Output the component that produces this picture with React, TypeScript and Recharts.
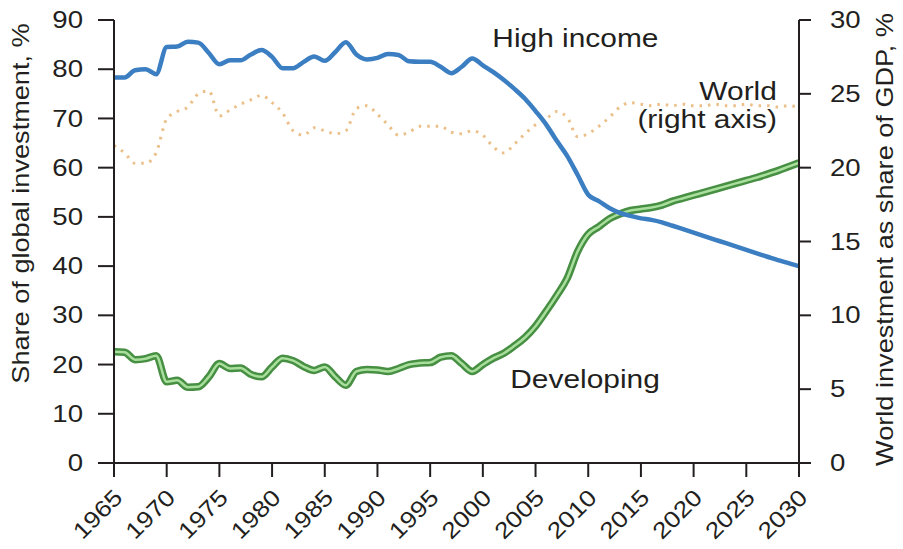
import React from 'react';
import { LineChart, Line, XAxis, YAxis, ReferenceDot, Label } from 'recharts';

const years = [
  1965, 1966, 1967, 1968, 1969, 1970, 1971, 1972, 1973, 1974,
  1975, 1976, 1977, 1978, 1979, 1980, 1981, 1982, 1983, 1984,
  1985, 1986, 1987, 1988, 1989, 1990, 1991, 1992, 1993, 1994,
  1995, 1996, 1997, 1998, 1999, 2000, 2001, 2002, 2003, 2004,
  2005, 2006, 2007, 2008, 2009, 2010, 2011, 2012, 2013, 2014,
  2015, 2016, 2017, 2018, 2019, 2020, 2021, 2022, 2023, 2024,
  2025, 2026, 2027, 2028, 2029, 2030,
];

const highIncome = [
  78.3, 78.3, 79.8, 80.0, 79.0, 84.5, 84.6, 85.6, 85.4, 83.3,
  81.0, 81.8, 81.8, 83.0, 83.9, 82.5, 80.2, 80.2, 81.5, 82.6,
  81.7, 83.5, 85.5, 83.0, 82.0, 82.3, 83.1, 82.9, 81.6, 81.5,
  81.5, 80.5, 79.2, 80.5, 82.2, 80.8, 79.4, 77.8, 76.0, 74.0,
  71.5, 68.8, 65.5, 62.4, 58.5, 54.5, 53.2, 51.8, 50.8, 50.2,
  49.7, 49.4, 48.9, 48.2, 47.5, 46.8, 46.1, 45.4, 44.7, 44.0,
  43.3, 42.6, 41.9, 41.2, 40.6, 40.0,
];

const developing = [
  22.6, 22.5, 21.0, 21.2, 21.8, 16.5, 16.8, 15.4, 15.5, 17.5,
  20.2, 19.2, 19.3, 18.0, 17.5, 19.5, 21.3, 20.8, 19.6, 18.8,
  19.5, 17.5, 15.8, 18.6, 19.0, 18.9, 18.6, 19.2, 20.0, 20.3,
  20.4, 21.5, 21.8, 20.2, 18.6, 20.0, 21.3, 22.3, 23.8, 25.5,
  27.8, 30.8, 34.0, 37.5, 43.0, 46.5, 48.0, 49.6, 50.6, 51.3,
  51.6, 51.9, 52.4, 53.2, 53.8, 54.4, 55.0, 55.6, 56.2, 56.8,
  57.4, 58.0, 58.7, 59.4, 60.2, 61.0,
];

const world = [
  21.5, 21.0, 20.3, 20.3, 21.0, 23.3, 23.8, 24.1, 25.0, 25.2,
  23.5, 23.9, 24.3, 24.6, 24.9, 24.4, 23.7, 22.5, 22.2, 22.7,
  22.5, 22.3, 22.5, 24.0, 24.2, 23.6, 22.9, 22.2, 22.4, 22.8,
  22.8, 22.8, 22.4, 22.3, 22.5, 22.2, 21.4, 21.0, 21.6, 22.3,
  22.9, 23.3, 23.8, 23.4, 22.1, 22.3, 22.8, 23.4, 24.1, 24.4,
  24.3, 24.2, 24.3, 24.2, 24.3, 24.2, 24.2, 24.3, 24.2, 24.2,
  24.3, 24.2, 24.2, 24.1, 24.2, 24.1,
];

const xTicks = [1965, 1970, 1975, 1980, 1985, 1990, 1995, 2000, 2005, 2010, 2015, 2020, 2025, 2030];
const leftTicks = [0, 10, 20, 30, 40, 50, 60, 70, 80, 90];
const rightTicks = [0, 5, 10, 15, 20, 25, 30];

const leftTitle = 'Share of global investment, %';
const rightTitle = 'World investment as share of GDP, %';
const highLabel = 'High income';
const worldLabel1 = 'World';
const worldLabel2 = '(right axis)';
const devLabel = 'Developing';

const data = years.map((year, i) => ({
  year,
  high: highIncome[i],
  dev: developing[i],
  world: world[i],
}));

const FONT = '"Liberation Sans", Arial, Helvetica, sans-serif';
const INK = '#231f20';

const LeftTick = (props: any) => {
  const { x, y, payload } = props;
  return (
    <text
      transform={`translate(${x},${y}) scale(1.2,1)`}
      textAnchor="end"
      dominantBaseline="central"
      fontSize={23}
      fill={INK}
      fontFamily={FONT}
    >
      {payload.value}
    </text>
  );
};

const RightTick = (props: any) => {
  const { x, y, payload } = props;
  return (
    <text
      transform={`translate(${x},${y}) scale(1.2,1)`}
      textAnchor="start"
      dominantBaseline="central"
      fontSize={23}
      fill={INK}
      fontFamily={FONT}
    >
      {payload.value}
    </text>
  );
};

const BottomTick = (props: any) => {
  const { x, y, payload } = props;
  return (
    <text
      transform={`translate(${x + 10},${y + 22}) rotate(-45) scale(1.15,1)`}
      textAnchor="end"
      fontSize={23}
      fill={INK}
      fontFamily={FONT}
    >
      {payload.value}
    </text>
  );
};

const LeftTitle = (props: any) => {
  const vb = props.viewBox || { x: 0, y: 20, width: 114, height: 443 };
  const cx = vb.x + 21;
  const cy = vb.y + vb.height / 2 - 38;
  return (
    <text
      transform={`translate(${cx},${cy}) rotate(-90) scale(1.18,1)`}
      textAnchor="middle"
      dominantBaseline="central"
      fontSize={23}
      fill={INK}
      fontFamily={FONT}
    >
      {leftTitle}
    </text>
  );
};

const RightTitle = (props: any) => {
  const vb = props.viewBox || { x: 799, y: 20, width: 104, height: 443 };
  const cx = vb.x + 86;
  const cy = vb.y + vb.height / 2 - 2;
  return (
    <text
      transform={`translate(${cx},${cy}) rotate(-90) scale(1.18,1)`}
      textAnchor="middle"
      dominantBaseline="central"
      fontSize={23}
      fill={INK}
      fontFamily={FONT}
    >
      {rightTitle}
    </text>
  );
};

const makeTextShape = (text: string, anchor: 'start' | 'end') => (props: any) => (
  <text
    transform={`translate(${props.cx},${props.cy}) scale(1.15,1)`}
    textAnchor={anchor}
    fontSize={26}
    fill={INK}
    fontFamily={FONT}
  >
    {text}
  </text>
);

const axisLine = { stroke: INK, strokeWidth: 2 };
const tickLine = { stroke: INK, strokeWidth: 2 };

export default function App() {
  return (
    <div style={{ position: 'absolute', left: 0, top: 0, width: 903, height: 549, background: '#fff' }}>
      <LineChart
        width={903}
        height={549}
        data={data}
        margin={{ top: 20, right: 0, bottom: 0, left: 0 }}
      >
        <XAxis
          dataKey="year"
          type="number"
          domain={[1965, 2030]}
          ticks={xTicks}
          interval={0}
          height={86}
          tickSize={14}
          tickMargin={0}
          axisLine={axisLine}
          tickLine={tickLine}
          tick={<BottomTick />}
          xAxisId="x"
        />
        <YAxis
          yAxisId="left"
          orientation="left"
          domain={[0, 90]}
          ticks={leftTicks}
          interval={0}
          width={114}
          tickSize={16}
          tickMargin={15}
          axisLine={axisLine}
          tickLine={tickLine}
          tick={<LeftTick />}
        >
          <Label content={<LeftTitle />} />
        </YAxis>
        <YAxis
          yAxisId="right"
          orientation="right"
          domain={[0, 30]}
          ticks={rightTicks}
          interval={0}
          width={104}
          tickSize={12}
          tickMargin={19}
          axisLine={axisLine}
          tickLine={tickLine}
          tick={<RightTick />}
        >
          <Label content={<RightTitle />} />
        </YAxis>

        <Line
          xAxisId="x"
          yAxisId="right"
          dataKey="world"
          type="monotone"
          stroke="#ebbf88"
          strokeWidth={3}
          strokeDasharray="2.5 6"
          dot={false}
          activeDot={false}
          isAnimationActive={false}
        />
        <Line
          xAxisId="x"
          yAxisId="left"
          dataKey="dev"
          type="monotone"
          stroke="#478f43"
          strokeWidth={7.5}
          dot={false}
          activeDot={false}
          isAnimationActive={false}
        />
        <Line
          xAxisId="x"
          yAxisId="left"
          dataKey="dev"
          type="monotone"
          stroke="#a9df9c"
          strokeWidth={2.5}
          dot={false}
          activeDot={false}
          isAnimationActive={false}
        />
        <Line
          xAxisId="x"
          yAxisId="left"
          dataKey="high"
          type="monotone"
          stroke="#3b7ec2"
          strokeWidth={4.5}
          dot={false}
          activeDot={false}
          isAnimationActive={false}
        />

        <ReferenceDot xAxisId="x" yAxisId="left" x={2000.9} y={84.5} r={0} shape={makeTextShape(highLabel, 'start')} />
        <ReferenceDot xAxisId="x" yAxisId="left" x={2027.9} y={73.75} r={0} shape={makeTextShape(worldLabel1, 'end')} />
        <ReferenceDot xAxisId="x" yAxisId="left" x={2027.9} y={68.1} r={0} shape={makeTextShape(worldLabel2, 'end')} />
        <ReferenceDot xAxisId="x" yAxisId="left" x={2002.6} y={15.2} r={0} shape={makeTextShape(devLabel, 'start')} />
      </LineChart>
    </div>
  );
}
